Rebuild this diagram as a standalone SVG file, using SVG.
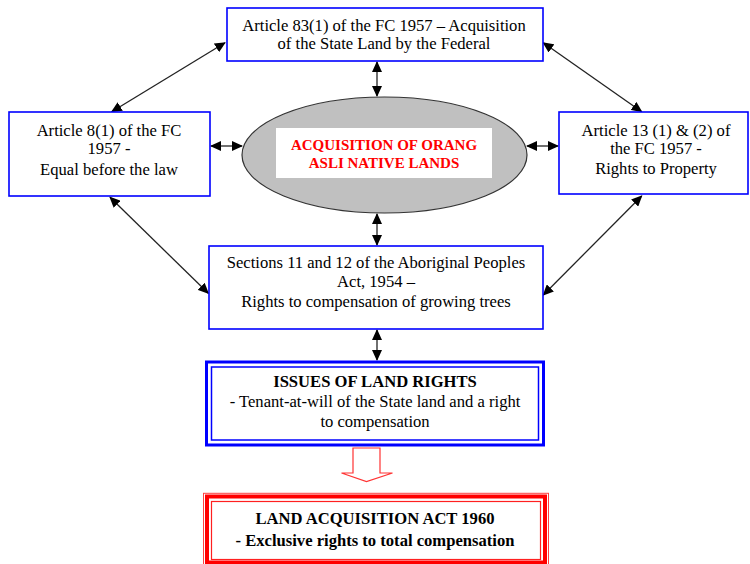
<svg xmlns="http://www.w3.org/2000/svg" width="750" height="564" viewBox="0 0 750 564">
<defs>
<style>
.box{fill:#fff;stroke:#0000ff;stroke-width:1.6}
.t{font-family:"Liberation Serif","Times New Roman",serif;font-size:16.6px;fill:#000;text-anchor:middle}
.b{font-weight:bold}
.rt{font-family:"Liberation Serif","Times New Roman",serif;font-size:15px;font-weight:bold;fill:#ff0000;text-anchor:middle}
.c{stroke:#222;stroke-width:1.3;fill:none;marker-start:url(#ah);marker-end:url(#ah)}
</style>
<marker id="ah" markerUnits="userSpaceOnUse" markerWidth="11" markerHeight="10" refX="10" refY="5" orient="auto-start-reverse">
<path d="M0,0 L11,5 L0,10 z" fill="#000"/>
</marker>
</defs>
<rect width="750" height="564" fill="#fff"/>

<g id="connectors">
<line class="c" x1="377" y1="62" x2="377" y2="96"/>
<line class="c" x1="211" y1="146" x2="242" y2="146"/>
<line class="c" x1="527" y1="146" x2="558" y2="146"/>
<line class="c" x1="377" y1="214" x2="377" y2="245"/>
<line class="c" x1="377" y1="330" x2="377" y2="360"/>
<line class="c" x1="225" y1="42.7" x2="111.7" y2="111.7"/>
<line class="c" x1="543.3" y1="42.7" x2="641.7" y2="111.7"/>
<line class="c" x1="110" y1="197.3" x2="208.3" y2="293.3"/>
<line class="c" x1="641.7" y1="196" x2="543.3" y2="295"/>
<path d="M353,448 H380 V473 H392.5 L366.5,481.5 L341.5,473 H353 Z" fill="#fff" stroke="#ff3333" stroke-width="1.2"/>
</g>

<g id="top">
<rect class="box" x="227" y="8" width="316" height="53"/>
<text class="t" x="384" y="31">Article 83(1) of the FC 1957 – Acquisition</text>
<text class="t" x="384" y="49">of the State Land by the Federal</text>
</g>

<g id="left">
<rect class="box" x="9" y="112" width="201" height="84"/>
<text class="t" x="109" y="136">Article 8(1) of the FC</text>
<text class="t" x="109" y="154">1957 -</text>
<text class="t" x="109" y="175">Equal before the law</text>
</g>

<g id="right">
<rect class="box" x="559" y="112" width="189" height="82"/>
<text class="t" x="656" y="136">Article 13 (1) &amp; (2) of</text>
<text class="t" x="656" y="154">the FC 1957 -</text>
<text class="t" x="656" y="174">Rights to Property</text>
</g>

<g id="center">
<ellipse cx="384.5" cy="155" rx="142.5" ry="58" fill="#c0c0c0" stroke="#333" stroke-width="1.2"/>
<rect x="276" y="128" width="216" height="50" fill="#fff"/>
<text class="rt" x="384" y="150">ACQUISITION OF ORANG</text>
<text class="rt" x="384" y="168">ASLI NATIVE LANDS</text>
</g>

<g id="sections">
<rect class="box" x="209" y="246" width="334" height="83"/>
<text class="t" x="376" y="268">Sections 11 and 12 of the Aboriginal Peoples</text>
<text class="t" x="376" y="287">Act, 1954 –</text>
<text class="t" x="376" y="307">Rights to compensation of growing trees</text>
</g>

<g id="issues">
<rect x="206.5" y="362" width="337" height="83" fill="#fff" stroke="#0000ff" stroke-width="3"/>
<rect x="211.5" y="367" width="327" height="73" fill="none" stroke="#0000ff" stroke-width="1.5"/>
<text class="t b" x="375" y="387">ISSUES OF LAND RIGHTS</text>
<text class="t" x="375" y="407">- Tenant-at-will of the State land and a right</text>
<text class="t" x="375" y="427">to compensation</text>
</g>

<g id="act">
<rect x="203.5" y="493.3" width="345" height="80" fill="#fff" stroke="#ff4040" stroke-width="1"/>
<rect x="207" y="496.5" width="338" height="66" fill="none" stroke="#ff0000" stroke-width="4"/>
<rect x="211.5" y="501.5" width="329" height="58" fill="none" stroke="#ff2020" stroke-width="1.2"/>
<text class="t b" x="375" y="524">LAND ACQUISITION ACT 1960</text>
<text class="t b" x="375" y="546">- Exclusive rights to total compensation</text>
</g>
</svg>
